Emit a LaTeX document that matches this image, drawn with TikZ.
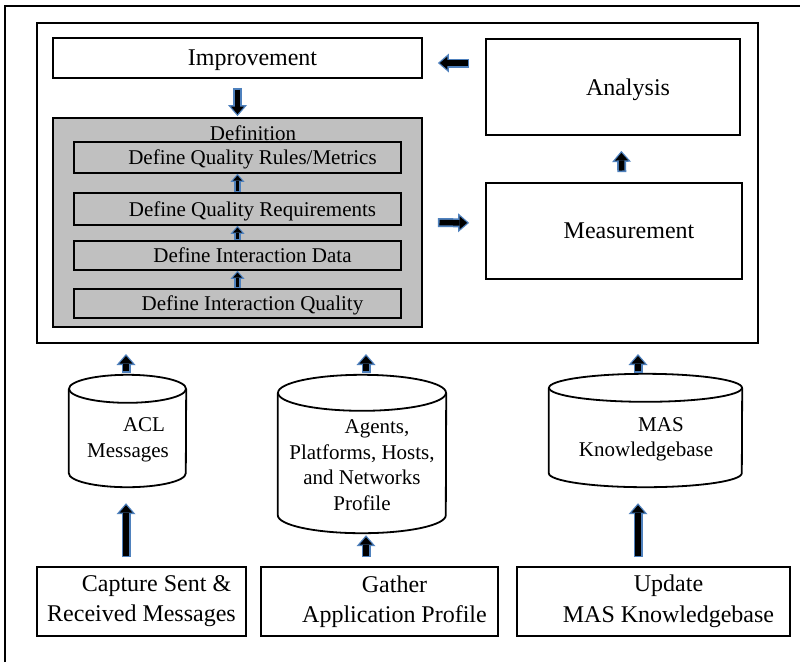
\documentclass[tikz,border=0pt]{standalone}
\usepackage{fontspec}
\setmainfont{Liberation Serif}
\usetikzlibrary{arrows.meta}
\definecolor{arrblue}{RGB}{79,129,189}
\definecolor{defgray}{RGB}{192,192,192}
\tikzset{
 box/.style={draw, line width=1.8pt, inner sep=0pt, align=center, font=\fontsize{24}{29}\selectfont},
 onebox/.style={box, text depth=0pt},
 subbox/.style={draw, line width=1.6pt, inner sep=0pt, minimum width=327pt, text depth=0pt, font=\fontsize{21}{25}\selectfont},
 cyltxt/.style={inner sep=0pt, align=center, font=\fontsize{21}{25.5}\selectfont},
 cylbody/.style={inner sep=0pt},
 cylline/.style={line width=1.8pt},
 bigout/.style={draw=arrblue, line width=9pt, -{Triangle[width=19pt,length=11pt,line width=0pt]}},
 bigin/.style={draw=black, line width=5.5pt, -{Triangle[width=13pt,length=7.5pt,sep=2pt,line width=0pt]}},
 smout/.style={draw=arrblue, line width=7pt, -{Triangle[width=14pt,length=8pt,line width=0pt]}},
 smin/.style={draw=black, line width=3.8pt, -{Triangle[width=9pt,length=5pt,sep=1.8pt,line width=0pt]}},
}
\newcommand\bigarrow[4]{%
 \draw[bigout,shorten <=#3,shorten >=#4] #1 -- #2;
 \draw[bigin,shorten <={#3+1.6pt},shorten >=#4] #1 -- #2;}
\newcommand\smarrow[4]{%
 \draw[smout,shorten <=#3,shorten >=#4] #1 -- #2;
 \draw[smin,shorten <={#3+1.5pt},shorten >=#4] #1 -- #2;}
\newcommand\cylshape[3]{% name, x radius, y radius
 \fill[white] ([yshift=-#3]#1.north west) -- ([yshift=#3]#1.south west)
   arc[start angle=180,end angle=360,x radius=#2,y radius=#3]
   -- ([yshift=-#3]#1.north east) -- cycle;
 \draw[cylline] ([yshift=-#3]#1.north west) -- ([yshift=#3]#1.south west)
   arc[start angle=180,end angle=360,x radius=#2,y radius=#3]
   -- ([yshift=-#3]#1.north east);
 \draw[cylline,fill=white] ([yshift=-#3]#1.north) ellipse[x radius=#2,y radius=#3];}
\begin{document}
\begin{tikzpicture}[x=1pt,y=-1pt]
\useasboundingbox (0,0) rectangle (800,662);
\fill[white] (0,0) rectangle (800,662);
\draw[line width=1.5pt] (5,662) -- (5,6) -- (800,6);

% main frame
\node[draw, line width=2pt, inner sep=0pt, minimum width=721pt, minimum height=320pt] (frame) at (397.5,183) {};

\node[onebox, minimum width=369pt, minimum height=40pt] (imp) at (237.5,58) {\hspace*{30pt}Improvement};
\node[onebox, minimum width=254pt, minimum height=96pt] (ana) at (613,87) {\hspace*{30pt}Analysis};
\node[onebox, minimum width=256pt, minimum height=96pt] (meas) at (614,231) {\hspace*{30pt}Measurement};

\node[draw, line width=1.8pt, fill=defgray, inner sep=0pt, minimum width=369pt, minimum height=209pt] (def) at (237.5,222.5) {};
\node[inner sep=0pt, font=\fontsize{21}{25}\selectfont] (deftitle) at (253,133) {Definition};
\node[subbox, minimum height=31pt] (rules) at (237.5,157.5) {\hspace*{30pt}Define Quality Rules/Metrics};
\node[subbox, minimum height=32pt] (req) at (237.5,209) {\hspace*{30pt}Define Quality Requirements};
\node[subbox, minimum height=29pt] (idata) at (237.5,255.5) {\hspace*{30pt}Define Interaction Data};
\node[subbox, minimum height=29pt] (iqual) at (237.5,303.5) {\hspace*{30pt}Define Interaction Quality};

% bottom boxes
\node[box, minimum width=209pt, minimum height=69pt] (cap) at (141.5,601.5) {\hspace*{30pt}Capture Sent \&\\[1pt]Received Messages};
\node[box, minimum width=237pt, minimum height=69pt] (gat) at (379.5,601.5) {\hspace*{30pt}Gather\\[1pt]\hspace*{30pt}Application Profile};
\node[box, minimum width=273pt, minimum height=69pt] (upd) at (653.5,601.5) {\hspace*{30pt}Update\\[2pt]\hspace*{30pt}MAS Knowledgebase};

% cylinders
\node[cylbody, minimum width=117pt, minimum height=112pt] (acl) at (127.5,431) {};
\node[cylbody, minimum width=168pt, minimum height=158pt] (agt) at (362,454) {};
\node[cylbody, minimum width=193pt, minimum height=113pt] (mas) at (645.5,430.5) {};
\cylshape{acl}{58.5pt}{14pt}
\cylshape{agt}{84pt}{18pt}
\cylshape{mas}{96.5pt}{14pt}
\node[cyltxt] (acltxt) at (128,440) {\hspace*{32pt}ACL\\Messages};
\node[cyltxt] (agttxt) at (362,465) {\hspace*{30pt}Agents,\\Platforms, Hosts,\\and Networks\\Profile};
\node[cyltxt] (mastxt) at (646,439.5) {\hspace*{30pt}MAS\\Knowledgebase};

% arrows in the frame
\bigarrow{(imp.south)}{(def.north)}{9pt}{1pt}
\bigarrow{([yshift=24pt]ana.west)}{([yshift=-5pt]imp.east)}{16pt}{15pt}
\bigarrow{(def.east)}{([yshift=8pt]meas.west)}{15pt}{16pt}
\bigarrow{([xshift=8pt]meas.north)}{([xshift=8pt]ana.south)}{10pt}{15pt}
\smarrow{(iqual.north)}{(idata.south)}{0pt}{0pt}
\smarrow{(idata.north)}{(req.south)}{0pt}{0pt}
\smarrow{(req.north)}{(rules.south)}{0pt}{0pt}

% bottom arrows
\coordinate (a0) at ([xshift=-1.5pt]acl.north);
\coordinate (a1) at ([xshift=4pt]agt.north);
\coordinate (a2) at ([xshift=-7.5pt]mas.north);
\bigarrow{(a0)}{(a0 |- frame.south)}{2pt}{10pt}
\bigarrow{(a1)}{(a1 |- frame.south)}{2pt}{10pt}
\bigarrow{(a2)}{(a2 |- frame.south)}{1pt}{10pt}
\bigarrow{(a0 |- cap.north)}{(a0 |- acl.south)}{9pt}{16pt}
\bigarrow{(a1 |- gat.north)}{(a1 |- agt.south)}{9pt}{2pt}
\bigarrow{(a2 |- upd.north)}{(a2 |- mas.south)}{9pt}{16pt}
\end{tikzpicture}
\end{document}
